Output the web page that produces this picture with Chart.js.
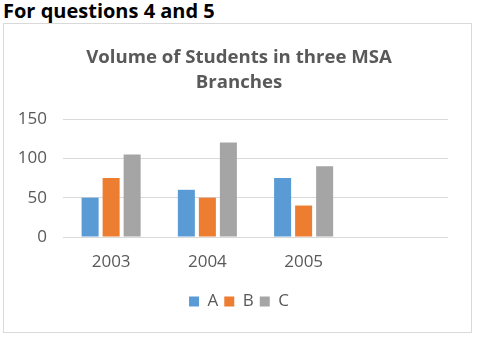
<!DOCTYPE html>
<html>
<head>
<meta charset="utf-8">
<script src="https://cdn.jsdelivr.net/npm/chart.js@4"></script>
<style>
  body { margin: 0; background: #fff; width: 477px; height: 341px; overflow: hidden; }
  #heading {
    position: absolute; left: 3px; top: 0px;
    font-family: "Open Sans", sans-serif; font-weight: bold; font-size: 20px; color: #000;
    line-height: 22px;
  }
  #box {
    position: absolute; left: 3px; top: 23px; width: 467px; height: 308px;
    border: 1px solid #d9d9d9;
  }
</style>
</head>
<body>
<div id="heading">For questions 4 and 5</div>
<div id="box"><canvas id="chart1" width="467" height="308"></canvas></div>
<script>
// chart data
const years = ["2003", "2004", "2005", ""];
const seriesA = [50, 60, 75, null];
const seriesB = [75, 50, 40, null];
const seriesC = [105, 120, 90, null];
const titleLines = ["Volume of Students in three MSA", "Branches"];

const textGray = "#595959";
const gridGray = "#d9d9d9";

const ctx = document.getElementById("chart1");

const chart = new Chart(ctx, {
  type: "bar",
  data: {
    labels: years,
    datasets: [
      { label: "A", data: seriesA, backgroundColor: "#5b9bd5" },
      { label: "B", data: seriesB, backgroundColor: "#ed7d31" },
      { label: "C", data: seriesC, backgroundColor: "#a5a5a5" }
    ]
  },
  options: {
    responsive: false,
    animation: false,
    categoryPercentage: 0.655,
    barPercentage: 0.81,
    layout: { padding: { left: 3, right: 0, top: 0, bottom: 12 } },
    scales: {
      x: {
        grid: { display: false },
        border: { display: false },
        ticks: { color: textGray, font: { family: "Open Sans", size: 17 }, padding: 7 },
        afterFit: (scale) => { scale.height = 50; }
      },
      y: {
        min: 0,
        max: 150,
        ticks: { stepSize: 50, color: textGray, font: { family: "Open Sans", size: 17 }, padding: 16 },
        grid: { color: gridGray, lineWidth: 1, drawTicks: false },
        border: { display: false },
        afterFit: (scale) => { scale.width = 56; }
      },
      // empty right margin so the legend and title stay centred on the box
      yRight: {
        position: "right",
        grid: { display: false },
        border: { display: false },
        ticks: { display: false },
        afterFit: (scale) => { scale.width = 23; }
      }
    },
    plugins: {
      title: {
        display: true,
        text: titleLines,
        color: textGray,
        font: { family: "Open Sans", size: 18.6, weight: "bold", lineHeight: "25px" },
        padding: { top: 21, bottom: 24 }
      },
      legend: {
        position: "bottom",
        labels: {
          color: textGray,
          font: { family: "Open Sans", size: 17 },
          boxWidth: 10,
          boxHeight: 10,
          padding: 6
        }
      },
      tooltip: { enabled: false }
    }
  }
});
</script>
</body>
</html>
